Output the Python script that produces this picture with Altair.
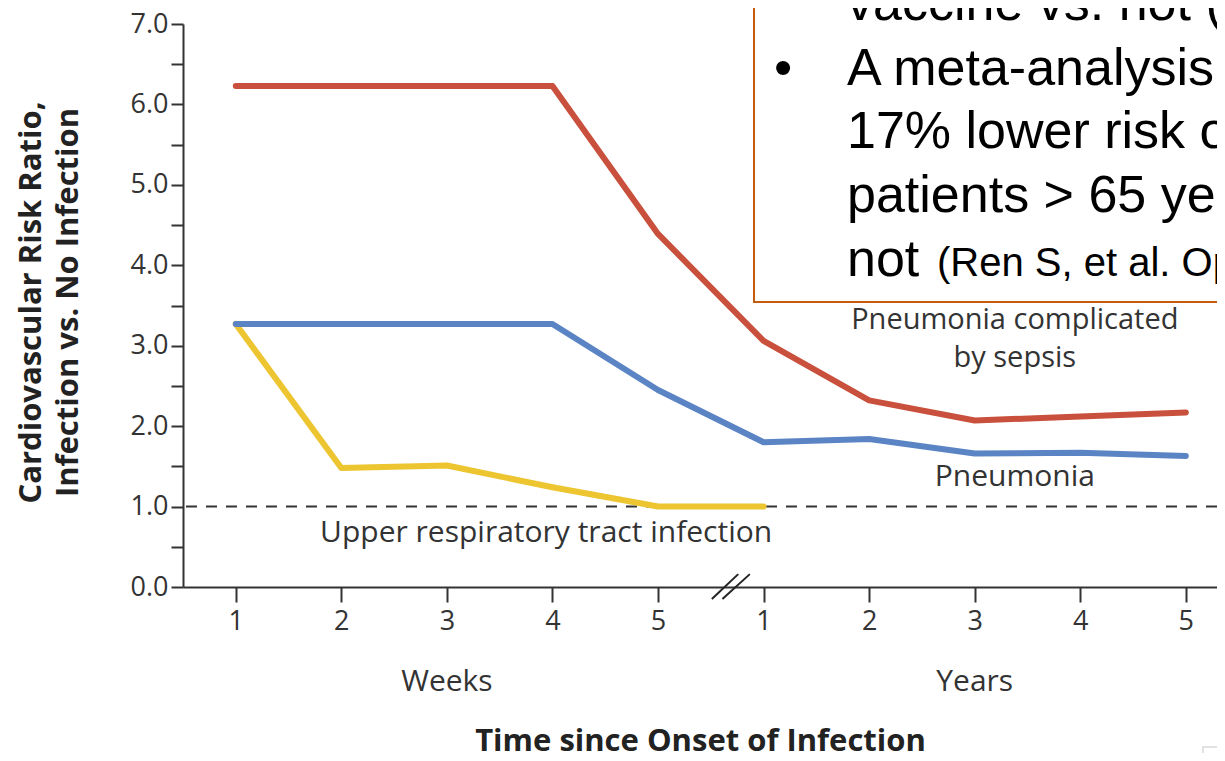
import altair as alt
import pandas as pd

# ---- data ----
x_index = list(range(10))                     # weeks 1-5, then years 1-5
tick_labels = ["1", "2", "3", "4", "5", "1", "2", "3", "4", "5"]
sepsis = [6.23, 6.23, 6.23, 6.23, 4.39, 3.06, 2.32, 2.07, 2.12, 2.17]
pneumonia = [3.27, 3.27, 3.27, 3.27, 2.45, 1.80, 1.84, 1.66, 1.67, 1.63]
urti_x = [0, 1, 2, 3, 4, 5]
urti = [3.27, 1.48, 1.51, 1.24, 1.00, 1.00]
reference_value = 1.0
y_ticks = [i * 0.5 for i in range(15)]

series_names = ["Pneumonia complicated by sepsis", "Upper respiratory tract infection", "Pneumonia"]
series_colors = ["#c9503c", "#ecc530", "#5b84c4"]

# axis break marks (in data units)
brk_x1 = [4.51, 4.61]
brk_x2 = [4.76, 4.87]
brk_y1 = [-0.15, -0.15]
brk_y2 = [0.16, 0.16]

LEFT, TOP = 183, 24          # page position of the plot origin
W, H = 1034, 563
FONT = "Open Sans"
BOXFONT = "Liberation Sans"

rows = []
for xi, v in zip(x_index, sepsis):
    rows.append({"x": xi, "y": v, "s": series_names[0]})
for xi, v in zip(urti_x, urti):
    rows.append({"x": xi, "y": v, "s": series_names[1]})
for xi, v in zip(x_index, pneumonia):
    rows.append({"x": xi, "y": v, "s": series_names[2]})
df = pd.DataFrame(rows)

label_js = "[" + ",".join("'%s'" % t for t in tick_labels) + "]"

xs = alt.Scale(domain=[-0.5, -0.5 + W / 105.56], nice=False, zero=False)
ys = alt.Scale(domain=[0, 7], nice=False, zero=True)

x_axis = alt.Axis(
    values=x_index, labelExpr=label_js + "[datum.value]",
    title="Time since Onset of Infection", titleFont=FONT, titleFontSize=31,
    titleFontWeight="bold", titleColor="#222", titleBaseline="middle", titleY=154,
    grid=False, domainColor="#333", domainWidth=2, tickColor="#333", tickWidth=2,
    tickSize=15, labelFont=FONT, labelFontSize=27, labelColor="#333", labelPadding=6,
)
y_axis = alt.Axis(
    values=y_ticks, labelExpr="datum.value % 1 == 0 ? format(datum.value, '.1f') : ''",
    title=["Cardiovascular Risk Ratio,", "Infection vs. No Infection"], titleFont=FONT,
    titleFontSize=31, titleFontWeight="bold", titleColor="#222", titleLineHeight=37,
    titleBaseline="middle", titleAlign="center", titleX=-152, titleY=278,
    grid=False, domainColor="#333", domainWidth=2, tickColor="#333", tickWidth=2,
    tickSize=12, labelFont=FONT, labelFontSize=27, labelColor="#333", labelPadding=3,
)

base = alt.Chart(df)

lines = base.mark_line(strokeWidth=6, strokeJoin="round", strokeCap="round").encode(
    x=alt.X("x:Q", scale=xs, axis=x_axis),
    y=alt.Y("y:Q", scale=ys, axis=y_axis),
    color=alt.Color("s:N", scale=alt.Scale(domain=series_names, range=series_colors), legend=None),
    order="x:Q",
    detail="s:N",
)

ref = alt.Chart(pd.DataFrame({"y": [reference_value]})).mark_rule(
    color="#333", strokeWidth=2, strokeDash=[11, 9]
).encode(y=alt.Y("y:Q", scale=ys))

brk = alt.Chart(pd.DataFrame({"x": brk_x1, "x2": brk_x2, "y": brk_y1, "y2": brk_y2})).mark_rule(
    color="#222", strokeWidth=2
).encode(x=alt.X("x:Q", scale=xs), x2="x2:Q", y=alt.Y("y:Q", scale=ys), y2="y2:Q")


def dlabel(text, xv, yv, size=30):
    return alt.Chart(pd.DataFrame({"t": [text]})).mark_text(
        font=FONT, fontSize=size, color="#333", align="center", baseline="middle"
    ).encode(x=alt.datum(xv), y=alt.datum(yv), text="t:N")


def plabel(text, px, py, size, align="left", font=BOXFONT, color="#000", baseline="alphabetic"):
    return alt.Chart(pd.DataFrame({"t": [text]})).mark_text(
        font=font, fontSize=size, color=color, align=align, baseline=baseline
    ).encode(x=alt.value(px - LEFT), y=alt.value(py - TOP), text="t:N")


labels = [
    dlabel("Pneumonia complicated", 7.38, 3.32, 29),
    dlabel("by sepsis", 7.38, 2.85, 29),
    dlabel("Pneumonia", 7.38, 1.37),
    dlabel("Upper respiratory tract infection", 2.94, 0.67),
    dlabel("Weeks", 2, -1.18),
    dlabel("Years", 7, -1.18),
]

box = alt.Chart(pd.DataFrame({"a": [0]})).mark_rect(
    fill="white", stroke="#c55a11", strokeWidth=2
).encode(x=alt.value(754 - LEFT), x2=alt.value(1300 - LEFT), y=alt.value(-60), y2=alt.value(302 - TOP))

corner = alt.Chart(pd.DataFrame({"a": [0]})).mark_rect(
    fill="white", stroke="#d9d9d9", strokeWidth=1.5
).encode(x=alt.value(1203 - LEFT), x2=alt.value(1260 - LEFT), y=alt.value(747 - TOP), y2=alt.value(800 - TOP))

box_text = [
    plabel("vaccine vs. not (Ren S, et al.", 847, 20, 52),
    plabel("\u2022", 783, 85, 52, align="center"),
    plabel("A meta-analysis found a", 847, 85, 52),
    plabel("17% lower risk of CV events in", 847, 148, 52),
    plabel("patients > 65 years vaccinated vs.", 847, 212, 52),
    plabel("not", 847, 276, 52),
    plabel("(Ren S, et al. Open Heart 2015)", 937, 276, 40),
]

chart = alt.layer(ref, lines, brk, *labels, box, *box_text, corner).properties(
    width=W, height=H, background="white",
    autosize=alt.AutoSizeParams(type="none"),
    padding={"left": LEFT - 8, "top": TOP - 8, "right": 0, "bottom": 745 - (TOP - 8) - H},
).configure_view(stroke=None)

chart.save("out.html", embed_options={"renderer": "svg", "actions": False})
